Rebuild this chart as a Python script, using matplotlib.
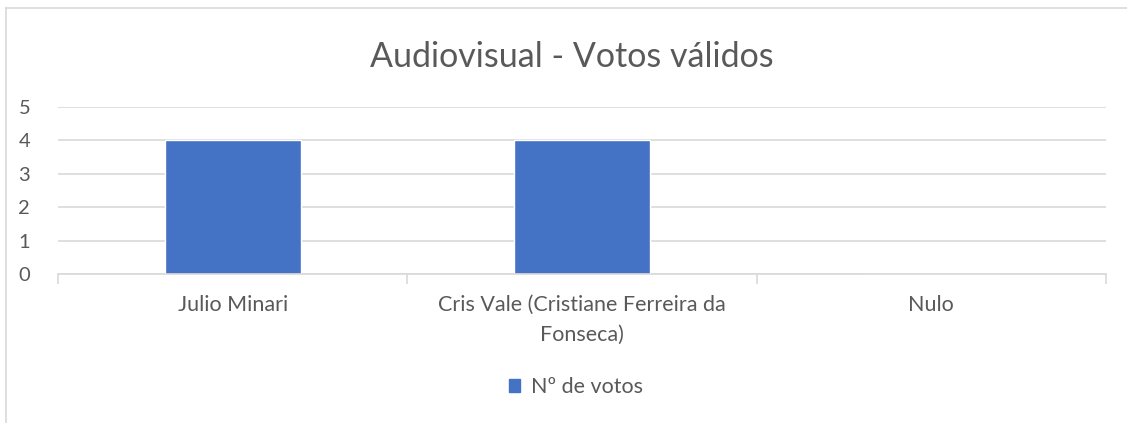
import matplotlib.pyplot as plt
from matplotlib.lines import Line2D
from matplotlib.patches import Patch

# data
categorias = ["Julio Minari", "Cris Vale (Cristiane Ferreira da\nFonseca)", "Nulo"]
votos = [4, 4, 0]
serie = "Nº de votos"
titulo = "Audiovisual - Votos válidos"

plt.rcParams['font.family'] = ['Lato', 'DejaVu Sans']
cinza = "#595959"
linha = "#d9d9d9"
azul = "#4472c4"

fig = plt.figure(figsize=(11.27, 4.23), dpi=100)
ax = fig.add_axes([58 / 1127, 149 / 423, 1048 / 1127, 167 / 423])

# chart area border (only top and left visible, cropped elsewhere)
fig.lines.append(Line2D([5.5 / 1127, 5.5 / 1127], [0, (423 - 8.5) / 423],
                        transform=fig.transFigure, color=linha, linewidth=1.2))
fig.lines.append(Line2D([5.5 / 1127, 1], [(423 - 8.5) / 423, (423 - 8.5) / 423],
                        transform=fig.transFigure, color=linha, linewidth=1.2))

x = range(len(categorias))
ax.bar(x, votos, width=0.39, color=azul, edgecolor="white", linewidth=1, zorder=3)

ax.set_xlim(-0.5, len(categorias) - 0.5)
ax.set_ylim(0, 5)
ax.set_yticks(range(6))
ax.yaxis.grid(True, color=linha, linewidth=1.2, zorder=0)
ax.set_axisbelow(True)

for s in ["top", "right", "left"]:
    ax.spines[s].set_visible(False)
ax.spines["bottom"].set_color(linha)
ax.spines["bottom"].set_linewidth(1.2)
ax.spines["bottom"].set_zorder(4)

ax.tick_params(axis="y", length=0, pad=20, labelsize=14.5, labelcolor=cinza)
ax.set_xticks(x)
ax.set_xticklabels(categorias, fontsize=15.5, color=cinza, linespacing=1.6)
ax.tick_params(axis="x", length=0, pad=15)
ax.set_xticks([-0.5, 0.5, 1.5, 2.5], minor=True)
ax.tick_params(axis="x", which="minor", length=7, color=linha, width=1.2)

fig.text(0.507, 0.866, titulo, ha="center", va="center", fontsize=24.5, color=cinza)

fig.legend(handles=[Patch(color=azul, label=serie)], loc="center",
           bbox_to_anchor=(0.511, 0.085), frameon=False, fontsize=15.5,
           labelcolor=cinza, handlelength=0.5, handleheight=0.5, handletextpad=0.5)

fig.savefig("out.png", dpi=100)
